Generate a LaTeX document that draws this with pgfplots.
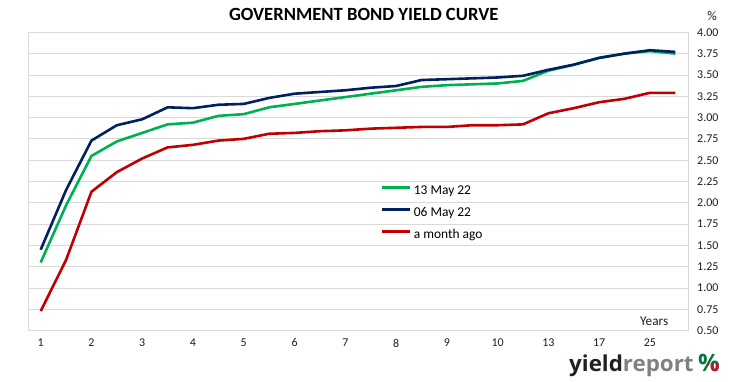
\documentclass[border=0pt]{standalone}
\usepackage{pgfplots}
\pgfplotsset{compat=1.18}
\usepackage{fontspec}
\setmainfont{Carlito}
\newfontfamily\logofont{Open Sans}
\definecolor{cgreen}{RGB}{0,176,80}
\definecolor{cnavy}{RGB}{0,32,96}
\definecolor{cred}{RGB}{192,0,0}
\definecolor{gridgray}{RGB}{217,217,217}
\definecolor{ticktext}{RGB}{30,30,30}
\definecolor{logogray}{RGB}{128,128,128}
\definecolor{logodark}{RGB}{35,31,32}
\definecolor{logogreen}{RGB}{0,120,60}
\definecolor{logored}{RGB}{200,16,46}

\pgfplotstableread{
i green navy red
0 1.30 1.45 0.73
1 1.97 2.15 1.33
2 2.55 2.73 2.13
3 2.72 2.91 2.36
4 2.82 2.98 2.52
5 2.92 3.12 2.65
6 2.94 3.11 2.68
7 3.02 3.15 2.73
8 3.04 3.16 2.75
9 3.12 3.23 2.81
10 3.16 3.28 2.82
11 3.20 3.30 2.84
12 3.24 3.32 2.85
13 3.28 3.35 2.87
14 3.32 3.37 2.88
15 3.36 3.44 2.89
16 3.38 3.45 2.89
17 3.39 3.46 2.91
18 3.40 3.47 2.91
19 3.43 3.49 2.92
20 3.55 3.56 3.05
21 3.62 3.62 3.11
22 3.70 3.70 3.18
23 3.75 3.75 3.22
24 3.78 3.79 3.29
25 3.75 3.77 3.29
}\yields

\begin{document}
\begin{tikzpicture}
\useasboundingbox (0,0) rectangle (731bp,382bp);
\begin{axis}[
  at={(28bp,51.3bp)}, anchor=south west,
  scale only axis, width=660bp, height=298.4bp,
  xmin=-0.5, xmax=25.5, ymin=0.5, ymax=4,
  xtick={0,2,...,24},
  xticklabels={1,2,3,4,5,6,7,8,9,10,13,17,25},
  ytick={0.5,0.75,...,4.01},
  yticklabel pos=right,
  major tick length=0pt,
  tick style={draw=none},
  axis line style={draw=gridgray, line width=0.75bp},
  ymajorgrids=true,
  major grid style={draw=gridgray, line width=0.75bp},
  /pgf/number format/.cd, fixed, fixed zerofill, precision=2, assume math mode=true,
  /pgfplots/.cd,
  yticklabel style={anchor=west, inner sep=0pt, xshift=9bp, font=\fontsize{12}{14}\selectfont, text=ticktext},
  xticklabel style={anchor=north, inner sep=0pt, yshift=-8bp, font=\fontsize{12}{14}\selectfont, text=ticktext},
  legend style={draw=none, fill=none, inner sep=0pt,
    at={(axis cs:13.39,2.21)}, anchor=north west,
    font=\fontsize{13.5}{16}\selectfont,
    row sep=9.3bp, column sep=2.5bp,
    nodes={inner sep=0pt, text height=9.5bp, text depth=3bp}},
  legend cell align=left,
  legend image code/.code={\draw[#1] (0bp,3.6bp) -- (28bp,3.6bp);},
  every axis plot/.append style={line width=2.6bp, line join=round},
  clip=false,
]
\addlegendimage{cgreen, line width=2.6bp}
\addlegendentry{13 May 22}
\addlegendimage{cnavy, line width=2.6bp}
\addlegendentry{06 May 22}
\addlegendimage{cred, line width=2.6bp}
\addlegendentry{a month ago}
\addplot[cred, forget plot] table[x=i, y=red] {\yields};
\addplot[cgreen, forget plot] table[x=i, y=green] {\yields};
\addplot[cnavy, forget plot] table[x=i, y=navy] {\yields};
\node[font=\fontsize{13.3}{16}\selectfont, text=ticktext, inner sep=0pt] at (axis cs:24.17,0.615) {Years};
\end{axis}
\node[anchor=base, inner sep=0pt, font=\bfseries\fontsize{18.7}{22}\selectfont] at (363.7bp,361.3bp) {GOVERNMENT BOND YIELD CURVE};
\node[anchor=center, inner sep=0pt, font=\fontsize{13.3}{16}\selectfont, text=ticktext] at (712bp,366bp) {\%};
\node[anchor=base west, inner sep=0pt, font=\logofont\bfseries\fontsize{22}{24}\selectfont, xscale=1.02] at (569bp,11bp) {\textcolor{logodark}{yield}\textcolor{logogray}{report}};
\node[anchor=base west, inner sep=0pt, font=\logofont\bfseries\fontsize{24}{26}\selectfont, text=logogreen] (pc) at (698bp,11bp) {\%};
\begin{scope}
\clip (pc.south) rectangle ([yshift=-1bp]pc.east);
\node[anchor=base west, inner sep=0pt, font=\logofont\bfseries\fontsize{24}{26}\selectfont, text=logored] at (698bp,11bp) {\%};
\end{scope}
\end{tikzpicture}
\end{document}
